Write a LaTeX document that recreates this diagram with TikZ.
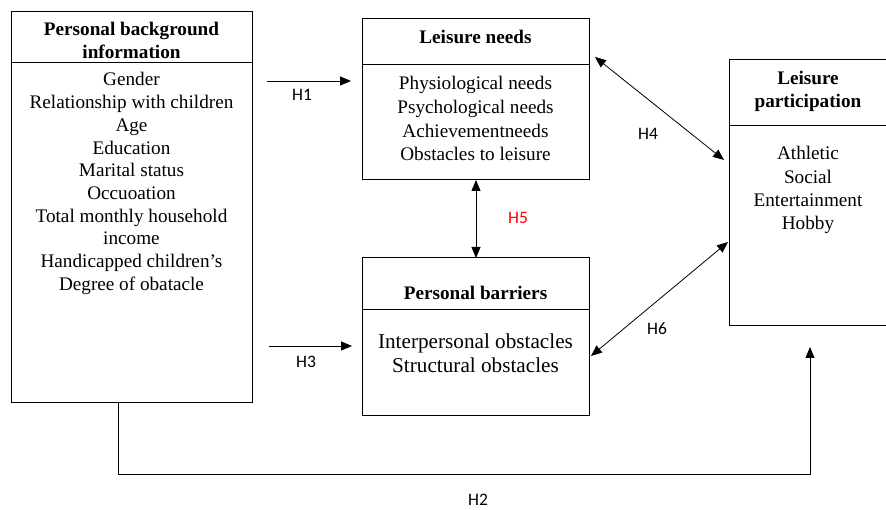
\documentclass[tikz,border=0pt]{standalone}
\usepackage{fontspec}
\setmainfont{Liberation Serif}
\newfontfamily\labfont{Carlito}
\usetikzlibrary{arrows.meta}
\begin{document}
\begin{tikzpicture}[x=1pt,y=-1pt,
  box/.style={draw,line width=0.8pt,inner sep=0pt},
  body/.style={anchor=base,inner sep=0pt,font=\fontsize{19.2}{22}\selectfont},
  bigbody/.style={anchor=base,inner sep=0pt,font=\fontsize{21.2}{24}\selectfont},
  head/.style={anchor=base,inner sep=0pt,font=\fontsize{19.2}{22}\selectfont\bfseries},
  lab/.style={anchor=base,inner sep=0pt,font=\labfont\fontsize{17.5}{20}\selectfont},
  arr/.style={line width=0.8pt,-{Triangle[length=11pt,width=9pt]}},
  darr/.style={line width=0.8pt,{Triangle[length=11pt,width=9pt]}-{Triangle[length=11pt,width=9pt]}},
  rulel/.style={line width=0.8pt}]
\useasboundingbox[fill=white] (0,0) rectangle (886,510);

% boxes
\node[box,minimum width=241pt,minimum height=391pt] (pbi) at (131.5,206.5) {};
\node[box,minimum width=227pt,minimum height=161pt] (ln) at (475.5,98.5) {};
\node[box,minimum width=227pt,minimum height=158pt] (pb) at (475.5,336) {};
\node[box,minimum width=158pt,minimum height=266pt] (lp) at (808,192) {};

% header dividers
\draw[rulel] (pbi.west |- 0,62) -- (pbi.east |- 0,62);
\draw[rulel] (ln.west |- 0,64) -- (ln.east |- 0,64);
\draw[rulel] (pb.west |- 0,309) -- (pb.east |- 0,309);
\draw[rulel] (lp.west |- 0,125) -- (lp.east |- 0,125);

% headers
\node[head] (pbi-h1) at (131.5,36) {Personal background};
\node[head] (pbi-h2) at (131.5,58.5) {information};
\node[head] (ln-h) at (475.5,44) {Leisure needs};
\node[head] (pb-h) at (475.5,300) {Personal barriers};
\node[head] (lp-h1) at (808,85) {Leisure};
\node[head] (lp-h2) at (808,107.5) {participation};

% bodies
\foreach \t [count=\i] in {Gender,Relationship with children,Age,Education,Marital status,Occuoation,Total monthly household,income,Handicapped children’s,Degree of obatacle}
  \node[body] (pbi-l\i) at (131.5,{86+22.7*(\i-1)}) {\t};
\foreach \t [count=\i] in {Physiological needs,Psychological needs,Achievementneeds,Obstacles to leisure}
  \node[body] (ln-l\i) at (475.5,{90+23.6*(\i-1)}) {\t};
\foreach \t [count=\i] in {Interpersonal obstacles,Structural obstacles}
  \node[bigbody] (pb-l\i) at (475.5,{348.5+24.5*(\i-1)}) {\t};
\foreach \t [count=\i] in {Athletic,Social,Entertainment,Hobby}
  \node[body] (lp-l\i) at (808,{160+23.3*(\i-1)}) {\t};

% connector end points
\coordinate (h1s) at (267,81);
\coordinate (h1e) at (351,81);
\coordinate (h3s) at (269,346);
\coordinate (h3e) at (352,346);
\coordinate (h4s) at (595,57);
\coordinate (h4e) at (724,160);
\coordinate (h6s) at (591,356);
\coordinate (h6e) at (728,242);
\coordinate (h5s) at (476,180);
\coordinate (h5e) at (476,258);
\coordinate (h2s) at (118,402);
\coordinate (h2a) at (118,474);
\coordinate (h2b) at (810,474);
\coordinate (h2e) at (810,347);

% connectors
\draw[arr] (h1s) -- (h1e);
\draw[arr] (h3s) -- (h3e);
\draw[darr] (h4s) -- (h4e);
\draw[darr] (h6s) -- (h6e);
\draw[darr] (h5s) -- (h5e);
\draw[arr] (h2s) -- (h2a) -- (h2b) -- (h2e);

% labels
\node[lab] (H1) at (302,100.5) {H1};
\node[lab] (H3) at (306,367.5) {H3};
\node[lab,text=red] (H5) at (518,224) {H5};
\node[lab] (H4) at (648,139.5) {H4};
\node[lab] (H6) at (657,335) {H6};
\node[lab] (H2) at (478,505.5) {H2};
\end{tikzpicture}
\end{document}
